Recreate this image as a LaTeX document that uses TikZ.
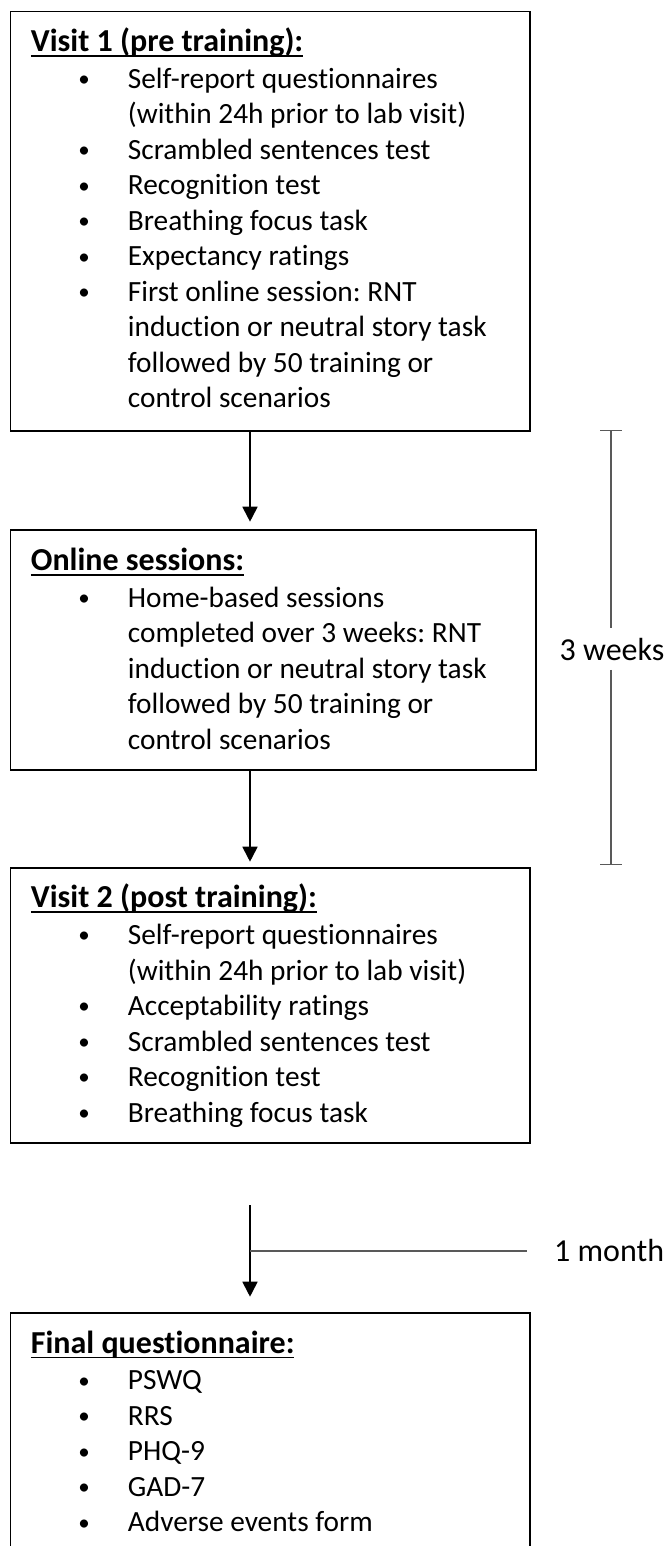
\documentclass[tikz,border=0pt]{standalone}
\usepackage{fontspec}
\setmainfont{Carlito}[Ligatures={NoCommon}]
\usetikzlibrary{arrows.meta,calc}
\definecolor{gline}{HTML}{595959}
\frenchspacing
\newcommand\ulx[1]{\setbox0\hbox{#1}\rlap{\rule[-5.4pt]{\wd0}{1.8pt}}\box0}
\newcommand\boxtitle[1]{\noindent{\fontsize{32pt}{38pt}\selectfont\bfseries\ulx{#1}}\par\vspace{1.3pt}}
\newcommand\bul[1]{\par\noindent\hspace*{53.3pt}\makebox[0pt]{\raisebox{1.8pt}{\fontsize{23pt}{0pt}\selectfont\textbullet}}\hspace*{43.7pt}#1}
\newcommand\cnt[1]{\par\noindent\hspace*{97pt}#1}
\newcommand\content[1]{\begin{minipage}[t]{480pt}\fontsize{29.33pt}{35.5pt}\selectfont\setlength\parskip{0pt}#1\end{minipage}}
\begin{document}
\begin{tikzpicture}[x=1pt,y=-1pt,
  boxnode/.style={draw=black,line width=1.8pt,rectangle,inner sep=0pt,anchor=north west},
  txt/.style={inner sep=0pt,anchor=base west},
  arr/.style={draw=black,line width=1.8pt,-{Triangle[width=15pt,length=15pt]}},
  grey/.style={draw=gline,line width=1.4pt},
  lab/.style={font=\fontsize{32pt}{38pt}\selectfont}]
\useasboundingbox (0,0) rectangle (666,1546);
\clip (0,0) rectangle (666,1546);

% boxes
\node[boxnode,minimum width=519.5pt,minimum height=419.3pt] (v1) at (9.5,10.7) {};
\node[boxnode,minimum width=525.5pt,minimum height=239.7pt] (v2) at (9.5,529.3) {};
\node[boxnode,minimum width=519.5pt,minimum height=275pt] (v3) at (9.5,866.7) {};
\node[boxnode,minimum width=519.5pt,minimum height=280pt] (v4) at (9.5,1311.7) {};

% contents
\node[txt] (v1t) at ($(v1.north west)+(21.2,41)$) {\content{%
\boxtitle{Visit 1 (pre training):}%
\bul{Self-report questionnaires}%
\cnt{(within 24h prior to lab visit)}%
\bul{Scrambled sentences test}%
\bul{Recognition test}%
\bul{Breathing focus task}%
\bul{Expectancy ratings}%
\bul{First online session: RNT}%
\cnt{induction or neutral story task}%
\cnt{followed by 50 training or}%
\cnt{control scenarios}}};

\node[txt] (v2t) at ($(v2.north west)+(21.2,41)$) {\content{%
\boxtitle{Online sessions:}%
\bul{Home-based sessions}%
\cnt{completed over 3 weeks: RNT}%
\cnt{induction or neutral story task}%
\cnt{followed by 50 training or}%
\cnt{control scenarios}}};

\node[txt] (v3t) at ($(v3.north west)+(21.2,41)$) {\content{%
\boxtitle{Visit 2 (post training):}%
\bul{Self-report questionnaires}%
\cnt{(within 24h prior to lab visit)}%
\bul{Acceptability ratings}%
\bul{Scrambled sentences test}%
\bul{Recognition test}%
\bul{Breathing focus task}}};

\node[txt] (v4t) at ($(v4.north west)+(21.2,41.3)$) {\content{%
\boxtitle{Final questionnaire:}%
\bul{PSWQ}%
\bul{RRS}%
\bul{PHQ-9}%
\bul{GAD-7}%
\bul{Adverse events form}}};

% arrows
\coordinate (ax) at (250,0);
\draw[arr,shorten >=7.6pt] (v1.south -| ax) -- (v2.north -| ax);
\draw[arr,shorten >=5pt] (v2.south -| ax) -- (v3.north -| ax);
\coordinate (a3s) at (250,1205);
\draw[arr,shorten >=15pt] (a3s) -- (v4.north -| a3s);

% 1 month
\coordinate (mm) at (250,1251);
\node[lab,anchor=base west,inner xsep=27pt,inner ysep=0pt] (m1) at (527,1261) {1 month};
\draw[grey] (mm) -- (mm -| m1.west);

% 3 weeks bracket
\coordinate (tA) at (611,430.7);
\coordinate (tB) at (611,864.3);
\node[lab,anchor=base,inner xsep=0pt,inner ysep=9.5pt] (w3) at (612,660) {3 weeks};
\draw[grey] (tA) -- (w3.north -| tA);
\draw[grey] (w3.south -| tA) -- (tB);
\draw[grey] ([xshift=-11pt]tA) -- ([xshift=11pt]tA);
\draw[grey] ([xshift=-11pt]tB) -- ([xshift=11pt]tB);
\end{tikzpicture}
\end{document}
